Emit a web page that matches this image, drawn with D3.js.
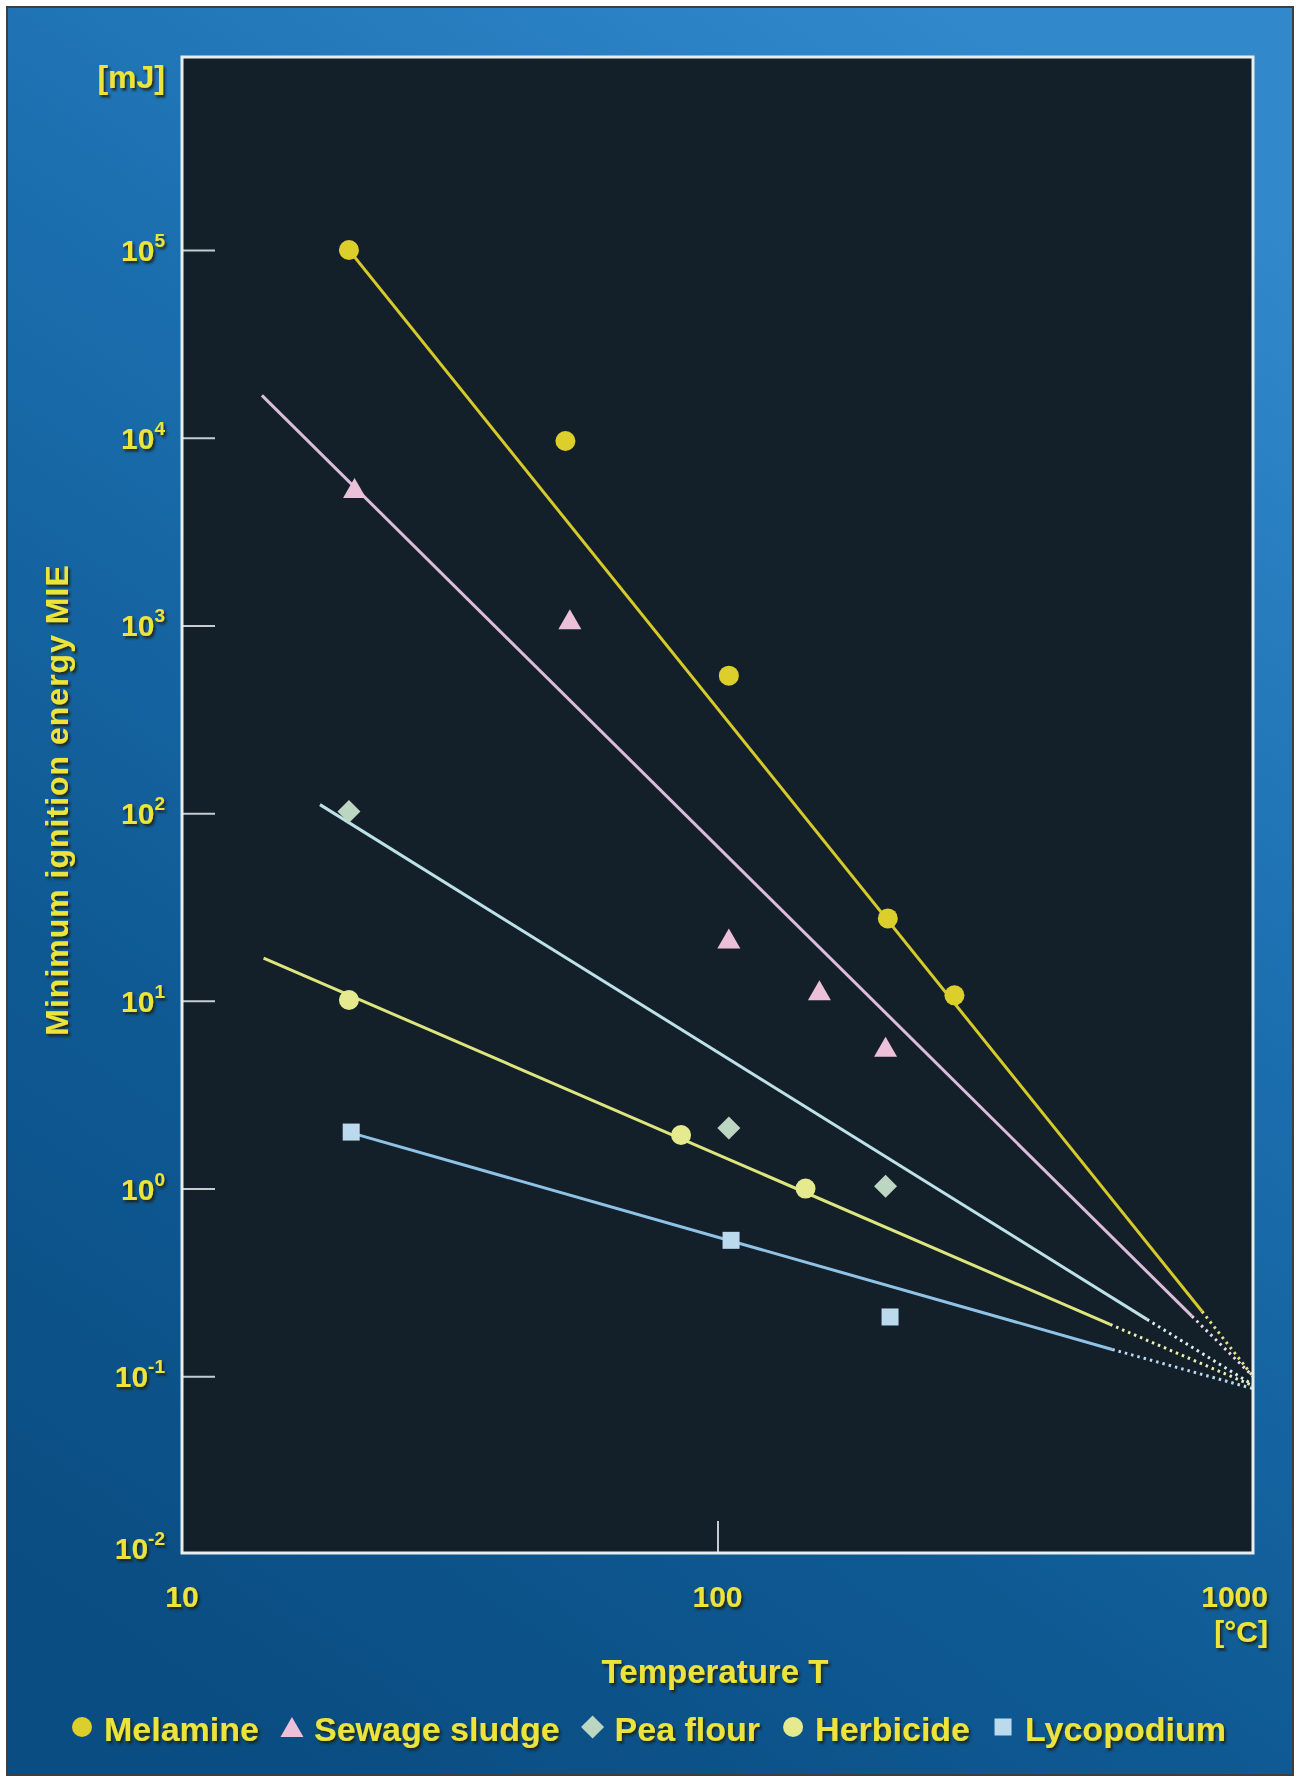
<!DOCTYPE html>
<html><head><meta charset="utf-8">
<script src="https://cdn.jsdelivr.net/npm/d3@7"></script>
<style>body{margin:0;background:#fff} svg{display:block}</style>
</head><body>
<svg id="chart" width="1296" height="1780"></svg>
<script>
// ---------------- data ----------------
const seriesNames  = ["Melamine", "Sewage sludge", "Pea flour", "Herbicide", "Lycopodium"];
const seriesShapes = ["circle", "triangle", "diamond", "circle", "square"];
const markerColors = ["#dccf2c", "#ecc0d8", "#bcd6c2", "#e6ea8e", "#bcdaee"];
const lineColors   = ["#d6ca2a", "#dcbcdc", "#bce2e6", "#dde57e", "#8ec2e6"];

const melamineT   = [20.5, 52, 105, 208, 277];
const melamineE   = [100000, 9600, 540, 27.5, 10.7];
const sewageT     = [21, 53, 105, 155, 206];
const sewageE     = [5400, 1080, 21.5, 11.4, 5.7];
const peaT        = [20.5, 105, 206];
const peaE        = [102, 2.1, 1.03];
const herbicideT  = [20.5, 85.5, 146];
const herbicideE  = [10.1, 1.93, 1.0];
const lycopodiumT = [20.7, 106, 210];
const lycopodiumE = [2.0, 0.53, 0.207];

// fitted lines: solid from start to end, dotted from end to convergence point
const fitStartT = [20.5, 14.1, 18.1, 14.2, 20.7];
const fitStartE = [100000, 16800, 111, 16.9, 1.98];
const fitEndT   = [803, 769, 634, 541, 546];
const fitEndE   = [0.222, 0.209, 0.201, 0.189, 0.139];
const convT     = [1000, 1000, 1000, 1000, 1000];
const convE     = [0.1, 0.1, 0.09, 0.089, 0.086];

const xTickValues = [10, 100, 1000];
const xTickLabels = ["10", "100", "1000"];
const yTickValues = [1e5, 1e4, 1e3, 1e2, 1e1, 1e0, 1e-1, 1e-2];
const yTickExps   = ["5", "4", "3", "2", "1", "0", "-1", "-2"];

const yTitle = "Minimum ignition energy MIE";
const xTitle = "Temperature T";
const yUnit = "[mJ]";
const xUnit = "[°C]";

// ---------------- layout ----------------
const pl = 182, pr = 1253, pt = 57, pb = 1553;
const svg = d3.select("#chart");
const defs = svg.append("defs");

const grad = defs.append("linearGradient").attr("id", "bg")
  .attr("x1", "0.75").attr("y1", "0").attr("x2", "0.25").attr("y2", "1");
grad.append("stop").attr("offset", "0").attr("stop-color", "#3189cc");
grad.append("stop").attr("offset", "0.35").attr("stop-color", "#1c70b0");
grad.append("stop").attr("offset", "0.7").attr("stop-color", "#0f5a94");
grad.append("stop").attr("offset", "1").attr("stop-color", "#0a4d82");

const f = defs.append("filter").attr("id", "ts")
  .attr("x", "-10%").attr("y", "-20%").attr("width", "130%").attr("height", "160%");
f.append("feDropShadow").attr("dx", 2).attr("dy", 2.5).attr("stdDeviation", 1)
  .attr("flood-color", "#1e1a08").attr("flood-opacity", 0.85);

svg.append("rect").attr("x", 7).attr("y", 7).attr("width", 1286).attr("height", 1768)
  .attr("fill", "url(#bg)").attr("stroke", "#3a3f44").attr("stroke-width", 2);

svg.append("rect").attr("x", pl).attr("y", pt).attr("width", pr - pl).attr("height", pb - pt)
  .attr("fill", "#142029");

const x = d3.scaleLog().domain([10, 1000]).range([pl, pr]);
const y = d3.scaleLog().domain([1e-2, 1e5]).range([1564, 250]);

// ticks (axes)
const yAxis = d3.axisRight(y).tickValues(yTickValues.filter(v => v > 1e-2))
  .tickSize(33).tickFormat("");
const gy = svg.append("g").attr("transform", `translate(${pl},0)`).call(yAxis);
gy.select(".domain").remove();
gy.selectAll("line").attr("stroke", "#c4ccd2").attr("stroke-width", 2);

const xAxis = d3.axisTop(x).tickValues([100]).tickSize(32).tickFormat("");
const gx = svg.append("g").attr("transform", `translate(0,${pb})`).call(xAxis);
gx.select(".domain").remove();
gx.selectAll("line").attr("stroke", "#c4ccd2").attr("stroke-width", 2);

// series
const seriesT = [melamineT, sewageT, peaT, herbicideT, lycopodiumT];
const seriesE = [melamineE, sewageE, peaE, herbicideE, lycopodiumE];

const line = d3.line().x(d => x(d[0])).y(d => y(d[1]));
seriesNames.forEach((name, i) => {
  svg.append("path")
    .attr("d", line([[fitEndT[i], fitEndE[i]], [convT[i], convE[i]]]))
    .attr("fill", "none").attr("stroke", d3.interpolateRgb(lineColors[i], "#ffffff")(0.4))
    .attr("stroke-width", 3).attr("stroke-dasharray", "2.5 4");
  svg.append("path")
    .attr("d", line([[fitStartT[i], fitStartE[i]], [fitEndT[i], fitEndE[i]]]))
    .attr("fill", "none").attr("stroke", lineColors[i]).attr("stroke-width", 3);
});

function shapePath(shape) {
  if (shape === "circle") return "M10,0A10,10 0 1,1 -10,0A10,10 0 1,1 10,0Z";
  if (shape === "triangle") return "M0,-10L11.5,10L-11.5,10Z";
  if (shape === "diamond") return "M0,-11.5L11.5,0L0,11.5L-11.5,0Z";
  return "M-8.5,-8.5H8.5V8.5H-8.5Z";
}

seriesNames.forEach((name, i) => {
  const pts = seriesT[i].map((t, k) => [t, seriesE[i][k]]);
  svg.append("g").selectAll("path").data(pts).join("path")
    .attr("transform", d => `translate(${x(d[0])},${y(d[1])})`)
    .attr("d", shapePath(seriesShapes[i]))
    .attr("fill", markerColors[i]);
});

// frame
svg.append("rect").attr("x", pl).attr("y", pt).attr("width", pr - pl).attr("height", pb - pt)
  .attr("fill", "none").attr("stroke", "#e6eef0").attr("stroke-width", 3);

// text
const txt = svg.append("g").attr("fill", "#ece43a").attr("font-family", "'Liberation Sans', Arial, sans-serif")
  .attr("font-weight", "bold").attr("filter", "url(#ts)");

yTickValues.forEach((v, i) => {
  const yy = Math.min(y(v), 1548);
  const t = txt.append("text").attr("x", 165).attr("y", yy + 11)
    .attr("text-anchor", "end").attr("font-size", 30);
  t.append("tspan").text("10");
  t.append("tspan").attr("font-size", 19).attr("dy", -14).text(yTickExps[i]);
});

xTickValues.forEach((v, i) => {
  const t = txt.append("text").attr("y", 1607).attr("font-size", 30).text(xTickLabels[i]);
  if (v === 1000) t.attr("x", 1268).attr("text-anchor", "end");
  else t.attr("x", x(v)).attr("text-anchor", "middle");
});

txt.append("text").attr("x", 1268).attr("y", 1642).attr("text-anchor", "end")
  .attr("font-size", 30).text(xUnit);
txt.append("text").attr("x", 165).attr("y", 88).attr("text-anchor", "end")
  .attr("font-size", 32).text(yUnit);

txt.append("text").attr("transform", "translate(68,800) rotate(-90)")
  .attr("text-anchor", "middle").attr("font-size", 32).attr("letter-spacing", 1).text(yTitle);
txt.append("text").attr("x", 715).attr("y", 1683).attr("text-anchor", "middle")
  .attr("font-size", 33).text(xTitle);

// legend
let cx = 72;
seriesNames.forEach((name, i) => {
  const mx = cx + 10;
  svg.append("path").attr("transform", `translate(${mx},${1727})`)
    .attr("d", shapePath(seriesShapes[i])).attr("fill", markerColors[i]);
  const t = txt.append("text").attr("x", mx + 22).attr("y", 1741).attr("font-size", 34).text(name);
  cx = mx + 22 + t.node().getComputedTextLength() + 23;
});
</script>
</body></html>
